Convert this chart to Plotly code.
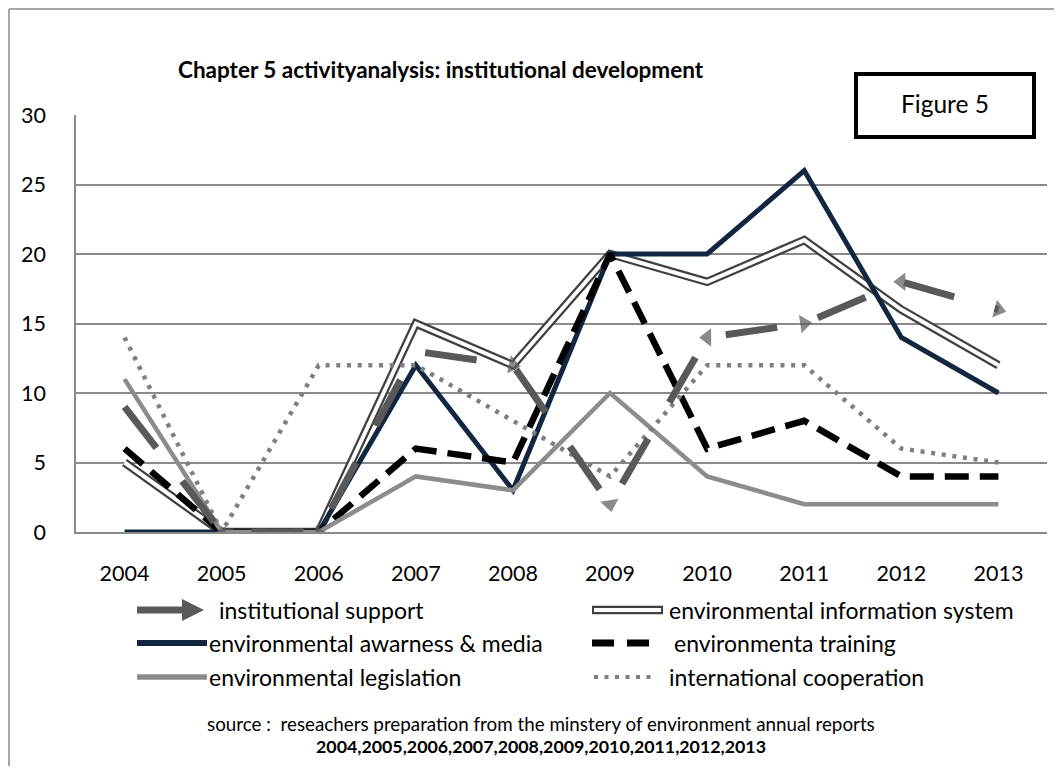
import plotly.graph_objects as go

# ---------------- data ----------------
years = ["2004", "2005", "2006", "2007", "2008", "2009", "2010", "2011", "2012", "2013"]
institutional_support = [9, 0, 0, 13, 12, 2, 14, 15, 18, 16]
env_information_system = [5, 0, 0, 15, 12, 20, 18, 21, 16, 12]
env_awareness_media = [0, 0, 0, 12, 3, 20, 20, 26, 14, 10]
env_training = [6, 0, 0, 6, 5, 20, 6, 8, 4, 4]
env_legislation = [11, 0, 0, 4, 3, 10, 4, 2, 2, 2]
international_cooperation = [14, 0, 12, 12, 8, 4, 12, 12, 6, 5]

series_names = [
    "institutional support",
    "environmental information system",
    "environmental awarness & media",
    "environmenta training",
    "environmental legislation",
    "international cooperation",
]
y_ticks = [0, 5, 10, 15, 20, 25, 30]

title_text = "Chapter 5 activityanalysis: institutional development"
source_text = "source :  reseachers preparation from the minstery of environment annual reports"
years_text = ",".join(years)

# ---------------- layout geometry ----------------
# positions below are given in window pixels; the page body has an 8px margin
OFF = 8
WIDTH, HEIGHT = 1062 - 2 * OFF, 774 - 2 * OFF
L, R, T, B = 76, 1047, 115, 532          # plot area in window pixels
PW, PH = R - L, B - T


def px(x):
    return (x - L) / PW


def py(y):
    return (B - y) / PH


FONT = "Lato"
C_INST = "#595959"
C_EIS = "#404040"
C_NAVY = "#13263F"
C_LEG = "#8C8C8C"
C_INTL = "#7F7F7F"
C_GRID = "#8A8A8A"

fig = go.Figure()

# environmental information system: double line (dark outer, white inner)
fig.add_trace(go.Scatter(x=years, y=env_information_system, mode="lines",
                         line=dict(color=C_EIS, width=8.5), showlegend=False,
                         name=series_names[1], hoverinfo="skip"))
fig.add_trace(go.Scatter(x=years, y=env_information_system, mode="lines",
                         line=dict(color="white", width=4), showlegend=False,
                         name=series_names[1]))
# awareness & media
fig.add_trace(go.Scatter(x=years, y=env_awareness_media, mode="lines",
                         line=dict(color=C_NAVY, width=5), showlegend=False,
                         name=series_names[2]))
# training
fig.add_trace(go.Scatter(x=years, y=env_training, mode="lines",
                         line=dict(color="black", width=6.5, dash="24px,11px"),
                         showlegend=False, name=series_names[3]))
# legislation
fig.add_trace(go.Scatter(x=years, y=env_legislation, mode="lines",
                         line=dict(color=C_LEG, width=4.5), showlegend=False,
                         name=series_names[4]))
# international cooperation
fig.add_trace(go.Scatter(x=years, y=international_cooperation, mode="lines",
                         line=dict(color=C_INTL, width=4.5, dash="4px,6.7px"),
                         showlegend=False, name=series_names[5]))
# institutional support: thick dashes with arrow heads
arrow_sizes = [0, 12, 12, 0, 16, 16, 16, 16, 16, 16]
arrow_angles = [0, 60, 0, 0, 12, 80, 180, -8, 180, 15]
fig.add_trace(go.Scatter(x=years, y=institutional_support, mode="lines+markers",
                         line=dict(color=C_INST, width=7, dash="52px,42px"),
                         marker=dict(symbol="triangle-right", size=arrow_sizes,
                                     angle=arrow_angles, color=C_INST,
                                     line=dict(width=0)),
                         showlegend=False, name=series_names[0]))

shapes = []
annotations = []

# outer chart frame (left and top edges)
shapes.append(dict(type="line", xref="paper", yref="paper",
                   x0=px(9), y0=py(9), x1=px(1080), y1=py(9),
                   line=dict(color=C_GRID, width=1.5), layer="below"))
shapes.append(dict(type="line", xref="paper", yref="paper",
                   x0=px(9), y0=py(9), x1=px(9), y1=py(800),
                   line=dict(color=C_GRID, width=1.5), layer="below"))

# "Figure 5" box
shapes.append(dict(type="rect", xref="paper", yref="paper",
                   x0=px(856), y0=py(74), x1=px(1034), y1=py(137),
                   line=dict(color="black", width=4), fillcolor="white",
                   layer="above"))
annotations.append(dict(xref="paper", yref="paper", x=px(945), y=py(104),
                        text="Figure 5", showarrow=False,
                        font=dict(family=FONT, size=24.5, color="black"),
                        xanchor="center", yanchor="middle"))

# title
annotations.append(dict(xref="paper", yref="paper", x=px(441), y=py(69),
                        text="<b>" + title_text + "</b>", showarrow=False,
                        font=dict(family=FONT, size=22.5, color="black"),
                        xanchor="center", yanchor="middle"))

# ---------------- manual legend ----------------
rows = [610, 643, 677]
c1x0, c1t = 137, 211
c2x0, c2x1, c2t = 592, 663, 667


def seg(x0, x1, y, color, width, dash="solid"):
    return dict(type="line", xref="paper", yref="paper",
                x0=px(x0), y0=py(y), x1=px(x1), y1=py(y),
                line=dict(color=color, width=width, dash=dash), layer="above")


# institutional support: line + arrow head
shapes.append(seg(c1x0, 184, rows[0], C_INST, 7))
shapes.append(dict(type="path", xref="paper", yref="paper",
                   path="M {} {} L {} {} L {} {} Z".format(
                       px(182), py(rows[0] - 11), px(182), py(rows[0] + 11),
                       px(204), py(rows[0])),
                   fillcolor=C_INST, line=dict(width=0), layer="above"))
# environmental information system: double line
shapes.append(seg(c2x0, c2x1, rows[0], C_EIS, 8.5))
shapes.append(seg(c2x0 + 2, c2x1 - 2, rows[0], "white", 4))
# awareness
shapes.append(seg(c1x0, 207, rows[1], C_NAVY, 6))
# training
shapes.append(seg(c2x0, 652, rows[1], "black", 7, "22px,13px"))
# legislation
shapes.append(seg(c1x0, 207, rows[2], C_LEG, 5.5))
# international cooperation
shapes.append(seg(c2x0 + 2, 656, rows[2], C_INTL, 4, "4px,6.5px"))

legend_entries = [
    (217, rows[0], series_names[0]),
    (c2t, rows[0], series_names[1]),
    (207, rows[1], series_names[2]),
    (672, rows[1], series_names[3]),
    (207, rows[2], series_names[4]),
    (c2t, rows[2], series_names[5]),
]
for lx, ly, txt in legend_entries:
    annotations.append(dict(xref="paper", yref="paper", x=px(lx), y=py(ly),
                            text=txt, showarrow=False,
                            font=dict(family=FONT, size=23, color="black"),
                            xanchor="left", yanchor="middle"))

# source lines
annotations.append(dict(xref="paper", yref="paper", x=px(541), y=py(723),
                        text=source_text, showarrow=False,
                        font=dict(family=FONT, size=18.8, color="black"),
                        xanchor="center", yanchor="middle"))
annotations.append(dict(xref="paper", yref="paper", x=px(541), y=py(746),
                        text="<b>" + years_text + "</b>", showarrow=False,
                        font=dict(family=FONT, size=17.8, color="black"),
                        xanchor="center", yanchor="middle"))

fig.update_layout(
    width=WIDTH, height=HEIGHT, autosize=False,
    margin=dict(l=L - OFF, r=WIDTH - (R - OFF), t=T - OFF, b=HEIGHT - (B - OFF), pad=0),
    paper_bgcolor="white", plot_bgcolor="white",
    shapes=shapes, annotations=annotations,
    showlegend=False,
    font=dict(family=FONT, color="black"),
)
fig.update_xaxes(type="category", range=[-0.5, 9.5], showgrid=False,
                 showline=True, linecolor=C_GRID, linewidth=1.5,
                 ticks="", tickfont=dict(family=FONT, size=21.5, color="black"),
                 ticklabelstandoff=21, zeroline=False)
fig.update_yaxes(range=[0, 30], tickvals=y_ticks, showgrid=True,
                 gridcolor=C_GRID, gridwidth=1.5, showline=True,
                 linecolor=C_GRID, linewidth=1.5, zeroline=False,
                 ticks="", tickfont=dict(family=FONT, size=21.5, color="black"),
                 ticklabelstandoff=24)

fig.write_html("out.html")
